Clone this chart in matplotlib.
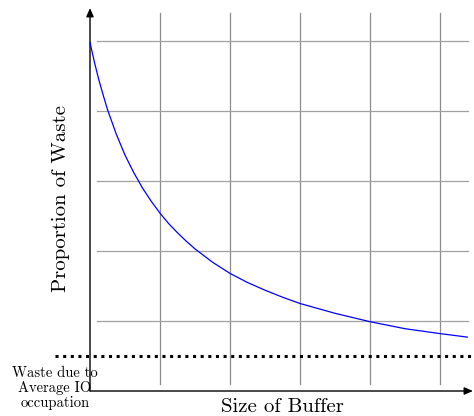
import matplotlib
matplotlib.use("Agg")
import matplotlib.pyplot as plt

# Data (grid units)
buffer_size = [0.0, 0.0625, 0.125, 0.1875, 0.25, 0.375, 0.5, 0.625, 0.75, 0.875, 1.0, 1.125,
               1.25, 1.375, 1.5, 1.75, 2.0, 2.25, 2.5, 2.75, 3.0, 3.25, 3.5, 4.0, 4.5, 5.0, 5.39]
waste = [4.98, 4.70, 4.45, 4.23, 4.02, 3.67, 3.37, 3.12, 2.90, 2.71, 2.54, 2.39,
         2.26, 2.14, 2.03, 1.84, 1.68, 1.55, 1.44, 1.34, 1.25, 1.18, 1.11, 0.99, 0.89, 0.82, 0.77]
grid_x = [1, 2, 3, 4, 5]
grid_y = [1, 2, 3, 4, 5]
io_level = 0.5

xlabel = "Size of Buffer"
ylabel = "Proportion of Waste"
io_label = "Waste due to\nAverage IO\noccupation"

FONT = "cmr10"

fig = plt.figure(figsize=(4.74, 4.16), dpi=100)
ax = fig.add_axes([0, 0, 1, 1])
ax.set_xlim(-90 / 70, 384 / 70)
ax.set_ylim(-25 / 70, 391 / 70)
ax.axis("off")

# grid
for gx in grid_x:
    ax.plot([gx, gx], [0.1, 5.4], color="#8c8c8c", lw=0.9, zorder=1)
for gy in grid_y:
    ax.plot([0.1, 5.4], [gy, gy], color="#a0a0a0", lw=0.9, zorder=1)

# axes arrows
ax.annotate("", xy=(0, 5.47), xytext=(0, 0),
            arrowprops=dict(arrowstyle="-|>,head_length=0.5,head_width=0.22", color="black", lw=1.0,
                            shrinkA=0, shrinkB=0), zorder=3)
ax.annotate("", xy=(5.47, 0), xytext=(0, 0),
            arrowprops=dict(arrowstyle="-|>,head_length=0.5,head_width=0.22", color="black", lw=1.0,
                            shrinkA=0, shrinkB=0), zorder=3)

# IO waste dotted line
ax.plot([-0.5, 5.6], [io_level, io_level], color="black", lw=2.2,
        linestyle=(0, (1, 1.5)), dash_capstyle="butt", zorder=2)

# curve
ax.plot(buffer_size, waste, color="#0000ff", lw=0.9, zorder=4, solid_joinstyle="round")

# labels
ax.text((282 - 90) / 70, (391 - 407) / 70, xlabel, fontsize=15, family=FONT,
        ha="center", va="center")
ax.text((61 - 90) / 70, (391 - 198) / 70, ylabel, fontsize=15, family=FONT,
        rotation=90, ha="center", va="center")
ax.text((55 - 90) / 70, (391 - 388) / 70, io_label, fontsize=10.5, family=FONT,
        ha="center", va="center", linespacing=1.1)

fig.savefig("out.png", dpi=100)
